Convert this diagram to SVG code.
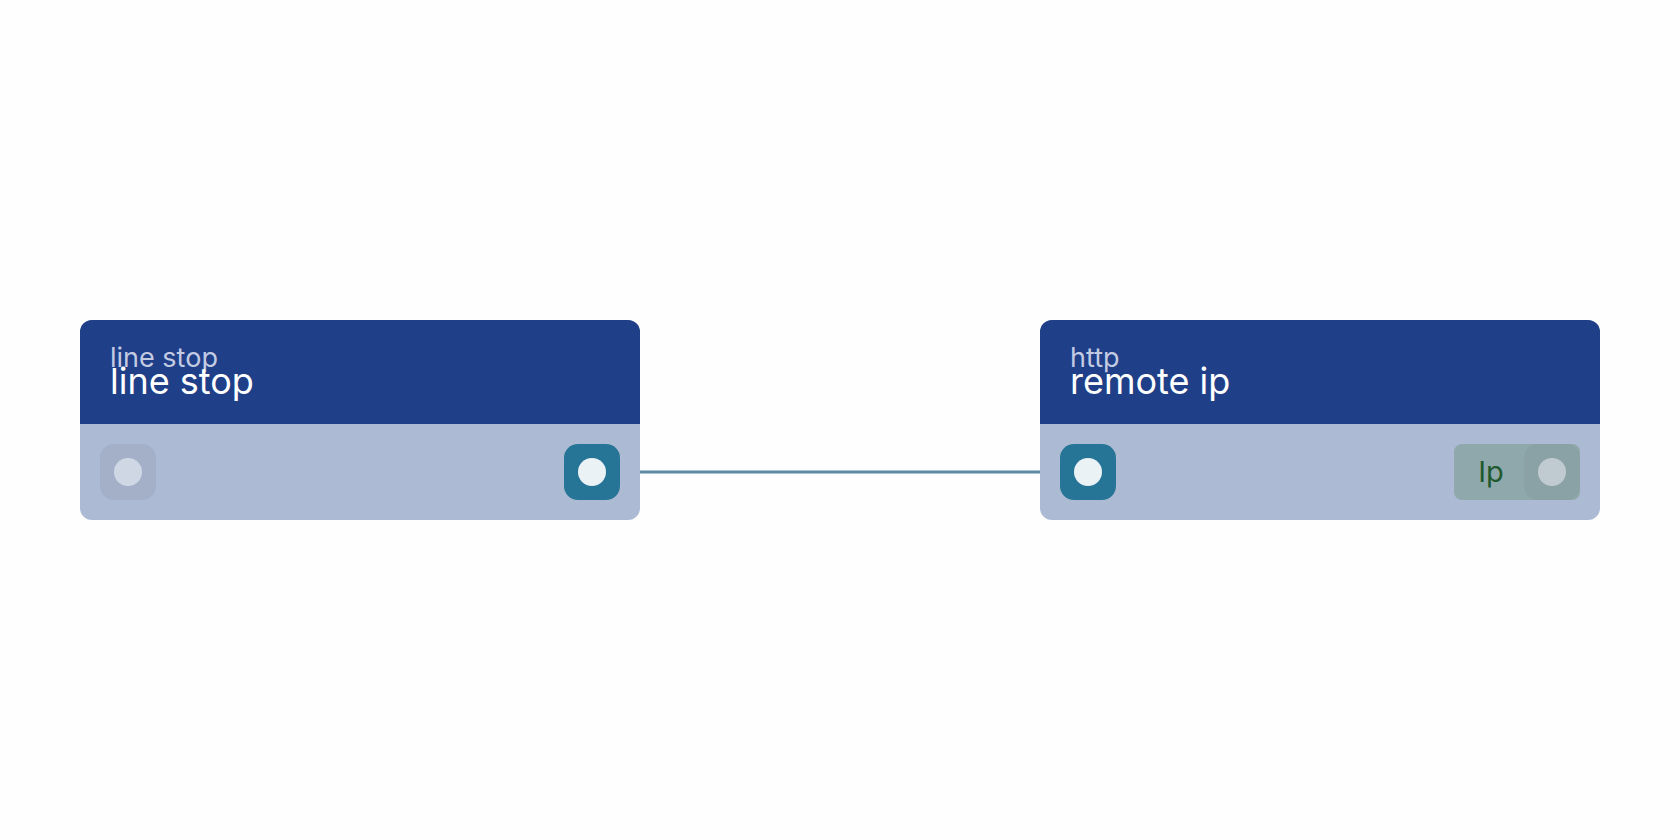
<svg xmlns="http://www.w3.org/2000/svg" width="1680" height="840" viewBox="0 0 1680 840">
<style>
.body{fill:#adbad4}.head{fill:#1f3f88}
.sub{font-family:Inter,"Noto Sans",sans-serif;font-size:27px;fill:#c3cbe3}
.title{font-family:Inter,"Noto Sans",sans-serif;font-size:36px;fill:#ffffff}
.port{fill:#267597}.dot{fill:#eaf2f5}
</style>
<rect width="1680" height="840" fill="#fefefe"/>
<g id="connectors"><line x1="620" y1="472" x2="1060" y2="472" stroke="#5a8aa6" stroke-width="3"/></g>
<g id="node-line-stop">
<rect x="80" y="320" width="560" height="200" rx="12" class="body"/>
<path d="M80 424V332a12 12 0 0 1 12-12h536a12 12 0 0 1 12 12v92z" class="head"/>
<text x="110" y="367" class="sub">line stop</text>
<text x="110" y="394" class="title">line stop</text>
<rect x="100" y="444" width="56" height="56" rx="14" fill="#a4b0c8"/>
<circle cx="128" cy="472" r="14" fill="#d0d7e4"/>
<rect x="564" y="444" width="56" height="56" rx="14" class="port"/>
<circle cx="592" cy="472" r="14" class="dot"/>
</g>
<g id="node-remote-ip">
<rect x="1040" y="320" width="560" height="200" rx="12" class="body"/>
<path d="M1040 424V332a12 12 0 0 1 12-12h536a12 12 0 0 1 12 12v92z" class="head"/>
<text x="1070" y="367" class="sub">http</text>
<text x="1070" y="394" class="title">remote ip</text>
<rect x="1060" y="444" width="56" height="56" rx="14" class="port"/>
<circle cx="1088" cy="472" r="14" class="dot"/>
<rect x="1454" y="444" width="126" height="56" rx="8" fill="#8ea8ac"/>
<rect x="1524" y="444" width="56" height="56" rx="14" fill="#8aa2a5"/>
<circle cx="1552" cy="472" r="14" fill="#bfcbd1"/>
<text x="1491" y="482" font-family="Inter,'Noto Sans',sans-serif" font-size="29" fill="#1f5a2e" text-anchor="middle">Ip</text>
</g>
</svg>
